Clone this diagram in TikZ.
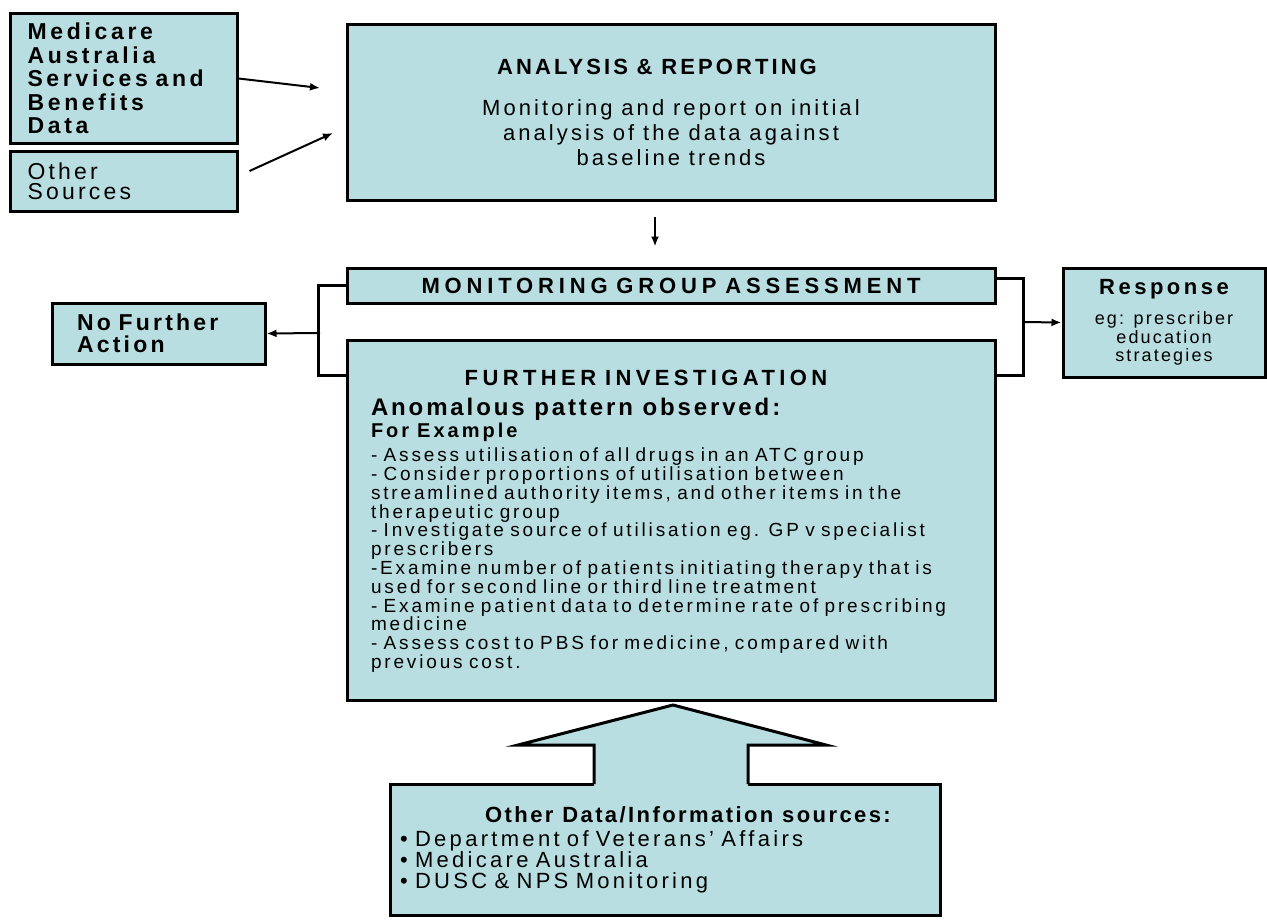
\documentclass[tikz,border=0pt]{standalone}
\usepackage{fontspec}
\setmainfont{Liberation Sans}[LetterSpace=14]
\usetikzlibrary{arrows.meta}
\definecolor{boxfill}{RGB}{185,222,226}
\newcommand\fsz[2]{\fontsize{#1}{#2}\selectfont\spaceskip=0.4em\relax}
\newcommand\ls[1]{\addfontfeature{LetterSpace=#1}\spaceskip=0.4em\relax}

\begin{document}
\begin{tikzpicture}[x=0.5pt, y=-0.5pt,
    box/.style={draw, line width=1.5pt, fill=boxfill, inner sep=2pt, minimum width=#1},
    link/.style={line width=1pt},
    arr/.style={link, -{Latex[length=5pt,width=4pt]}}
]
\useasboundingbox (0,0) rectangle (1267,920);
% sources on the left
\node[box=113.5pt, minimum height=64.5pt, text width=96pt, align=left, font={\bfseries\fsz{11.5}{11.75}\ls{16}}] (medicare) at (123.5,78.5) {Medicare\\Australia\\Services and\\Benefits\\Data};
\node[box=113.5pt, minimum height=30pt, text width=96pt, align=left, font={\fsz{11.5}{10}}] (other) at (123.5,181) {Other\\Sources};
% main column
\node[box=324pt, minimum height=87.5pt, align=center, font={\fsz{11}{12.5}}] (analysis) at (671,112.5) {\hspace*{-14pt}{\bfseries\fsz{11}{12.5}ANALYSIS \& REPORTING}\\[8pt]Monitoring and report on initial\\analysis of the data against\\baseline trends};
\node[box=324pt, minimum height=17.5pt, font={\bfseries\fsz{11}{12}\ls{22}}] (monitor) at (671,285.5) {MONITORING GROUP ASSESSMENT};
\node[box=324pt, minimum height=180pt, text width=300pt, align=left, font={\fsz{9.5}{9.4}\ls{15}}] (further) at (671,520) {\rule{0pt}{9pt}\makebox[\linewidth]{\hspace{-25pt}\bfseries\fsz{11}{12}\ls{20}FURTHER INVESTIGATION}\\[5.5pt]
{\bfseries\fsz{12}{11}\ls{12}Anomalous pattern observed:}\\[0.5pt]
{\bfseries\fsz{10}{11}For Example}\\[2.5pt]
- Assess utilisation of all drugs in an ATC group\\
- Consider proportions of utilisation between\\
streamlined authority items, and other items in the\\
therapeutic group\\
- Investigate source of utilisation eg. GP v specialist\\
prescribers\\
-Examine number of patients initiating therapy that is\\
used for second line or third line treatment\\
- Examine patient data to determine rate of prescribing\\
medicine\\
- Assess cost to PBS for medicine, compared with\\
previous cost.};
% outcomes
\node[box=106.5pt, minimum height=30.5pt, text width=81.5pt, align=left, font={\bfseries\fsz{11.5}{11}}] (nofurther) at (158.5,333.5) {No Further\\Action};
\node[box=101pt, minimum height=54.5pt, align=center, font={\fsz{9}{9.25}\ls{12}}] (response) at (1164,322.5) {{\bfseries\fsz{11}{12}\ls{16}Response}\\[6pt]eg: prescriber\\education\\strategies};
% other data
\node[box=275pt, minimum height=65.5pt, text width=265pt, align=left, font={\fsz{11}{10.5}\ls{15}}] (extra) at (665,849.5) {\makebox[\linewidth]{\hspace{23pt}\bfseries\ls{11}Other Data/Information sources:}\\[1.5pt]
\textbullet\ Department of Veterans’ Affairs\\
\textbullet\ Medicare Australia\\
\textbullet\ DUSC \& NPS Monitoring};

% arrows into analysis
\coordinate (inA) at (320,88);
\coordinate (inB) at (333,133);
\draw[arr] (medicare.east) -- (inA);
\draw[arr] ([shift={(11,-10)}]other.east) -- (inB);
\draw[arr] ([shift={(-16,15)}]analysis.south) -- ([shift={(-16,-20)}]monitor.north);

% brackets
\coordinate (lj) at (320,333);
\coordinate (rj) at (1022,322);
\draw[link, line width=1.5pt] (monitor.west) -- ++(-27,0) |- ([shift={(0,37)}]further.north west);
\draw[arr] (lj) -- (nofurther.east);
\draw[link, line width=1.5pt] ([shift={(0,-7)}]monitor.east) -- ++(27,0) |- ([shift={(0,37)}]further.north east);
\draw[arr] (rj) -- (response.west);

% block arrow up
\fill[boxfill] (594,786) -- (594,745) -- (518,745) -- (673,705) -- (826,745) -- (748,745) -- (748,786) -- cycle;
\draw[line width=1.5pt, line join=miter] (594,784) -- (594,745) -- (518,745) -- (673,705) -- (826,745) -- (748,745) -- (748,784);
\end{tikzpicture}
\end{document}
